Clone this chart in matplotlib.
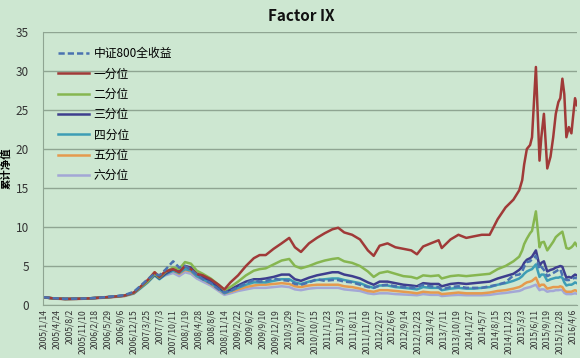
import numpy as np
import pandas as pd
import matplotlib
matplotlib.use("Agg")
import matplotlib.pyplot as plt

plt.rcParams['font.family'] = ['Noto Sans CJK SC', 'DejaVu Sans']

# 采样日期
dates = pd.to_datetime([
    "2005-01-14", "2005-04-01", "2005-07-01", "2005-10-01", "2006-01-01", "2006-04-01",
    "2006-07-01", "2006-10-01", "2006-12-15", "2007-02-01", "2007-04-01", "2007-05-25",
    "2007-07-01", "2007-08-15", "2007-10-15", "2007-12-01", "2008-01-15", "2008-03-01",
    "2008-04-15", "2008-06-01", "2008-08-01", "2008-10-01", "2008-11-15", "2009-01-01",
    "2009-03-01", "2009-05-01", "2009-07-01", "2009-08-15", "2009-10-01", "2009-12-01",
    "2010-02-01", "2010-04-01", "2010-05-15", "2010-07-01", "2010-09-01", "2010-11-01",
    "2011-01-01", "2011-03-01", "2011-04-15", "2011-06-01", "2011-08-01", "2011-10-01",
    "2011-12-01", "2012-01-15", "2012-03-01", "2012-05-01", "2012-07-01", "2012-09-01",
    "2012-11-01", "2012-12-15", "2013-02-01", "2013-04-01", "2013-06-01", "2013-06-25",
    "2013-09-01", "2013-11-01", "2014-01-01", "2014-03-01", "2014-05-01", "2014-07-01",
    "2014-09-01", "2014-11-01", "2015-01-01", "2015-02-15", "2015-03-10", "2015-03-25",
    "2015-04-15", "2015-05-10", "2015-05-25", "2015-06-24", "2015-07-22", "2015-08-05",
    "2015-08-25", "2015-09-20", "2015-10-15", "2015-11-05", "2015-11-25", "2015-12-15",
    "2015-12-30", "2016-01-15", "2016-01-30", "2016-02-15", "2016-03-05", "2016-03-25",
    "2016-04-06", "2016-04-22", "2016-05-06"])

zz800 = [1.0, 0.87, 0.8, 0.82, 0.85, 0.95, 1.1, 1.25, 1.7, 2.4, 3.3, 4.0,
         3.8, 4.5, 5.6, 4.8, 5.0, 4.5, 3.9, 3.3, 2.8, 2.0, 1.6, 1.8,
         2.3, 2.8, 3.2, 3.0, 3.1, 3.4, 3.2, 3.1, 2.7, 2.6, 2.9, 3.3,
         3.1, 3.2, 3.2, 3.0, 2.9, 2.6, 2.3, 2.2, 2.5, 2.6, 2.4, 2.3,
         2.2, 2.3, 2.6, 2.4, 2.3, 2.0, 2.3, 2.4, 2.2, 2.2, 2.2, 2.4,
         2.6, 2.9, 3.8, 3.9, 4.3, 4.9, 5.5, 5.6, 5.9, 6.3, 4.6, 4.9,
         4.5, 3.7, 3.9, 4.1, 4.3, 4.5, 4.6, 3.8, 3.4, 3.2, 3.2, 3.3,
         3.4, 3.5, 3.4]
q1 = [1.0, 0.85, 0.78, 0.8, 0.85, 0.95, 1.05, 1.2, 1.6, 2.3, 3.2, 4.2,
      3.6, 4.3, 4.6, 4.2, 5.0, 4.6, 4.0, 3.8, 3.3, 2.6, 2.0, 2.9,
      3.8, 5.0, 6.0, 6.4, 6.4, 7.2, 7.9, 8.6, 7.4, 6.8, 7.9, 8.6,
      9.2, 9.7, 9.9, 9.3, 9.0, 8.4, 7.0, 6.3, 7.6, 7.9, 7.4, 7.2,
      7.0, 6.5, 7.5, 7.9, 8.3, 7.3, 8.4, 9.0, 8.6, 8.8, 9.0, 9.0,
      11.0, 12.5, 13.5, 14.7, 16.0, 18.0, 20.0, 20.5, 21.5, 30.5, 18.5, 21.5,
      24.5, 17.5, 19.0, 21.5, 24.5, 26.0, 26.5, 29.0, 27.0, 21.5, 22.8, 22.0,
      24.0, 26.5, 25.6]
q2 = [1.0, 0.85, 0.78, 0.8, 0.85, 0.95, 1.05, 1.2, 1.55, 2.2, 3.0, 4.0,
      3.5, 4.2, 4.8, 4.6, 5.5, 5.3, 4.4, 4.0, 3.4, 2.6, 1.9, 2.3,
      3.0, 3.8, 4.4, 4.6, 4.7, 5.2, 5.7, 5.9, 5.0, 4.7, 5.0, 5.4,
      5.7, 5.9, 6.0, 5.6, 5.4, 5.0, 4.3, 3.6, 4.1, 4.3, 4.0, 3.7,
      3.6, 3.4, 3.8, 3.7, 3.8, 3.4, 3.7, 3.8, 3.7, 3.8, 3.9, 4.0,
      4.6, 5.0, 5.6, 6.2, 7.0, 7.8, 8.5, 9.2, 9.5, 12.0, 7.4, 8.0,
      8.1, 7.0, 7.6, 8.1, 8.7, 9.0, 9.2, 9.4, 8.4, 7.3, 7.2, 7.4,
      7.6, 8.0, 7.6]
q3 = [1.0, 0.85, 0.78, 0.8, 0.85, 0.95, 1.05, 1.2, 1.55, 2.2, 3.0, 3.9,
      3.4, 4.0, 4.6, 4.3, 5.0, 4.8, 4.0, 3.6, 3.1, 2.3, 1.7, 2.0,
      2.5, 3.0, 3.3, 3.3, 3.4, 3.6, 3.9, 3.9, 3.3, 3.1, 3.5, 3.8,
      4.0, 4.2, 4.2, 3.9, 3.7, 3.4, 2.9, 2.6, 3.0, 3.0, 2.8, 2.6,
      2.5, 2.4, 2.8, 2.7, 2.7, 2.4, 2.7, 2.8, 2.7, 2.8, 2.9, 3.0,
      3.4, 3.7, 4.0, 4.5, 4.9, 5.4, 5.8, 6.0, 6.2, 7.0, 5.0, 5.4,
      5.6, 4.3, 4.5, 4.6, 4.8, 4.9, 5.0, 4.9, 4.2, 3.5, 3.6, 3.5,
      3.7, 3.9, 3.8]
q4 = [1.0, 0.85, 0.78, 0.8, 0.85, 0.95, 1.05, 1.2, 1.5, 2.1, 2.9, 3.8,
      3.3, 3.9, 4.4, 4.1, 4.6, 4.4, 3.7, 3.3, 2.8, 2.1, 1.5, 1.8,
      2.2, 2.6, 2.9, 2.9, 2.9, 3.1, 3.3, 3.3, 2.9, 2.7, 3.0, 3.2,
      3.3, 3.4, 3.4, 3.2, 3.0, 2.8, 2.4, 2.2, 2.5, 2.5, 2.3, 2.2,
      2.1, 2.0, 2.3, 2.2, 2.2, 1.9, 2.1, 2.2, 2.1, 2.1, 2.2, 2.3,
      2.6, 2.8, 3.1, 3.4, 3.7, 4.0, 4.3, 4.5, 4.6, 5.2, 3.6, 3.9,
      3.9, 3.1, 3.3, 3.4, 3.5, 3.5, 3.6, 3.5, 2.9, 2.5, 2.6, 2.6,
      2.7, 2.9, 2.8]
q5 = [1.0, 0.83, 0.76, 0.78, 0.83, 0.92, 1.02, 1.15, 1.5, 2.2, 3.1, 4.2,
      3.6, 4.1, 4.4, 4.0, 4.5, 4.3, 3.7, 3.3, 2.7, 2.0, 1.5, 1.7,
      2.0, 2.3, 2.5, 2.6, 2.6, 2.7, 2.8, 2.7, 2.4, 2.3, 2.5, 2.6,
      2.6, 2.6, 2.6, 2.4, 2.3, 2.1, 1.8, 1.7, 1.9, 1.9, 1.8, 1.7,
      1.6, 1.5, 1.7, 1.6, 1.6, 1.4, 1.5, 1.6, 1.5, 1.5, 1.5, 1.6,
      1.8, 1.9, 2.1, 2.3, 2.5, 2.7, 2.9, 3.0, 3.1, 3.5, 2.4, 2.6,
      2.6, 2.1, 2.2, 2.3, 2.3, 2.3, 2.4, 2.3, 1.9, 1.7, 1.7, 1.7,
      1.8, 1.9, 1.8]
q6 = [1.0, 0.82, 0.75, 0.77, 0.82, 0.9, 1.0, 1.12, 1.45, 2.1, 2.9, 3.9,
      3.4, 3.8, 4.1, 3.7, 4.2, 4.0, 3.4, 3.0, 2.5, 1.8, 1.3, 1.5,
      1.8, 2.0, 2.2, 2.2, 2.2, 2.3, 2.4, 2.3, 2.0, 1.9, 2.1, 2.2,
      2.2, 2.2, 2.2, 2.0, 1.9, 1.8, 1.5, 1.4, 1.5, 1.5, 1.4, 1.35,
      1.3, 1.25, 1.4, 1.3, 1.3, 1.15, 1.25, 1.3, 1.25, 1.25, 1.25, 1.3,
      1.45, 1.55, 1.7, 1.8, 1.95, 2.1, 2.2, 2.3, 2.4, 2.6, 1.9, 2.0,
      2.0, 1.7, 1.8, 1.8, 1.9, 1.9, 1.95, 1.9, 1.55, 1.4, 1.4, 1.4,
      1.45, 1.5, 1.45]

names = ["中证800全收益", "一分位", "二分位", "三分位", "四分位", "五分位", "六分位"]
series = [zz800, q1, q2, q3, q4, q5, q6]
colors = ["#4a72b0", "#a03a38", "#86b650", "#3e3e8e", "#3d9db5", "#e59a4e", "#a3a7d6"]

bg = "#cde7d1"
fig = plt.figure(figsize=(5.8, 3.58), dpi=100, facecolor=bg)
ax = fig.add_axes([0.074, 0.148, 0.921, 0.763], facecolor=bg)

# 先画六分位，最后画基准
lines = {}
for i in [6, 5, 4, 3, 2, 1]:
    lines[i], = ax.plot(dates, series[i], color=colors[i], lw=1.8)
lines[0], = ax.plot(dates, series[0], color=colors[0], lw=1.8, ls=(0, (2.5, 1.2)))

ax.legend([lines[i] for i in range(7)], names,
          loc='upper left', bbox_to_anchor=(0.0, 1.0), frameon=False,
          fontsize=8.5, handlelength=2.6, handletextpad=0.4,
          labelspacing=0.62, borderaxespad=0.9)

ax.set_ylim(0, 35)
ax.set_yticks(range(0, 36, 5))
ax.yaxis.grid(True, color="#8fa592", lw=1)
ax.set_axisbelow(True)

start = pd.Timestamp("2005-01-14")
ticks = [start + pd.Timedelta(days=100 * k) for k in range(42)]
ax.set_xticks(ticks)
ax.set_xticklabels([f"{t.year}/{t.month}/{t.day}" for t in ticks], rotation=90, fontsize=6.2)
ax.set_xlim(pd.Timestamp("2005-01-10"), pd.Timestamp("2016-05-08"))
ax.tick_params(axis='both', length=0, colors="#333333")
ax.tick_params(axis='x', pad=3)
ax.tick_params(axis='y', labelsize=8.5, pad=10)

for s in ["top", "right"]:
    ax.spines[s].set_visible(False)
for s in ["left", "bottom"]:
    ax.spines[s].set_color("#8fa592")

ax.set_ylabel("累计净值", fontsize=7.5, fontweight='bold', labelpad=3)
fig.text(0.52, 0.955, "Factor IX", ha='center', va='center', fontsize=11, fontweight='bold', color="#111111")

fig.savefig("out.png", dpi=100, facecolor=bg)
